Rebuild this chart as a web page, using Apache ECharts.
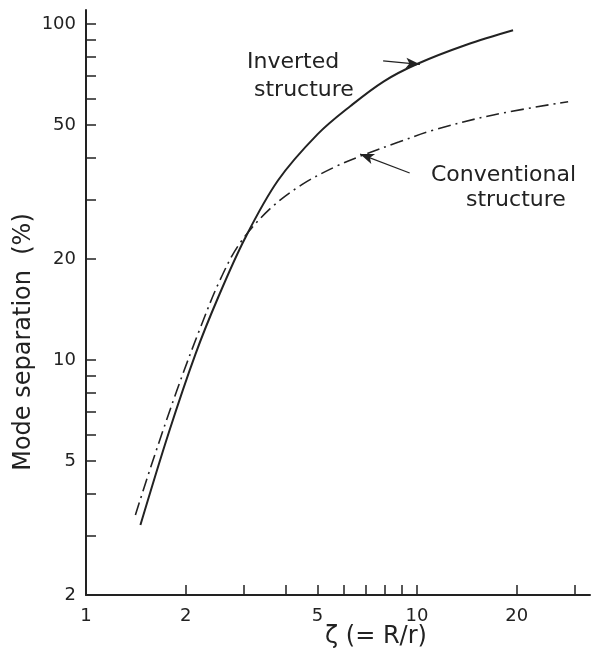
<!DOCTYPE html>
<html>
<head>
<meta charset="utf-8">
<script src="https://cdn.jsdelivr.net/npm/echarts@6/dist/echarts.min.js"></script>
<style>
  html, body { margin: 0; padding: 0; background: #fff; }
  #chart { width: 593px; height: 654px; }
</style>
</head>
<body>
<div id="chart"></div>
<script>
// values (zeta, mode separation %)
var invertedX = [1.46, 1.78, 2.14, 2.51, 3.02, 3.80, 5.01, 6.31, 7.94, 10, 14.1, 19.5];
var invertedY = [3.23, 6.1, 10.4, 15.4, 23.0, 34.2, 47.0, 57.1, 67.5, 76.0, 86.7, 95.7];
var conventionalX = [1.41, 1.59, 1.88, 2.21, 2.54, 2.92, 3.6, 4.5, 5.73, 6.87, 8.8, 11.2, 17, 28.6];
var conventionalY = [3.46, 5.0, 8.1, 12.4, 17.3, 22.3, 28.2, 33.3, 37.8, 40.7, 44.5, 48.3, 53.6, 58.7];

var xTicks = [2, 3, 4, 5, 6, 7, 8, 9, 10, 20, 30];
var xLabels = [1, 2, 5, 10, 20];
var yTicks = [3, 4, 5, 6, 7, 8, 9, 10, 20, 30, 40, 50, 60, 70, 80, 90, 100];
var yLabels = [2, 5, 10, 20, 50, 100];

function GetPairs(xs, ys) {
    var Ret = [];
    for (var i = 0; i < xs.length; i++) {
        Ret.push([xs[i], ys[i]]);
    }
    return Ret;
}

var ink = '#222';
var font = 'DejaVu Sans';

var myChart = echarts.init(document.getElementById('chart'));
var option = {
    animation: false,
    backgroundColor: '#fff',
    grid: {
        left: 86,
        right: 3,
        top: 10,
        bottom: 59,
        outerBoundsMode: 'none'
    },
    xAxis: {
        type: 'log',
        logBase: 10,
        min: 1,
        max: 33.3,
        axisLine: { lineStyle: { color: ink, width: 2 } },
        axisTick: {
            inside: true,
            length: 10,
            customValues: xTicks,
            lineStyle: { color: ink, width: 1.5 }
        },
        axisLabel: {
            customValues: xLabels,
            margin: 12,
            color: ink,
            fontFamily: font,
            fontSize: 18
        },
        splitLine: { show: false },
        minorTick: { show: false }
    },
    yAxis: {
        type: 'log',
        logBase: 10,
        min: 2,
        max: 110,
        axisLine: { lineStyle: { color: ink, width: 2 } },
        axisTick: {
            inside: true,
            length: 10,
            customValues: yTicks,
            lineStyle: { color: ink, width: 1.5 }
        },
        axisLabel: {
            customValues: yLabels,
            margin: 10,
            color: ink,
            fontFamily: font,
            fontSize: 18
        },
        splitLine: { show: false }
    },
    series: [
        {
            name: 'Inverted structure',
            type: 'line',
            smooth: 0.35,
            showSymbol: false,
            lineStyle: { color: ink, width: 2 },
            data: GetPairs(invertedX, invertedY),
            markLine: {
                silent: true,
                symbol: ['none', 'arrow'],
                symbolSize: [8, 14],
                lineStyle: { color: ink, width: 1.2, type: 'solid' },
                label: { show: false },
                data: [[{ coord: [7.9, 77.6] }, { coord: [10.2, 75.8] }]]
            }
        },
        {
            name: 'Conventional structure',
            type: 'line',
            smooth: 0.35,
            showSymbol: false,
            lineStyle: { color: ink, width: 1.6, type: [13, 5, 2, 5] },
            data: GetPairs(conventionalX, conventionalY),
            markLine: {
                silent: true,
                symbol: ['none', 'arrow'],
                symbolSize: [8, 14],
                lineStyle: { color: ink, width: 1.2, type: 'solid' },
                label: { show: false },
                data: [[{ coord: [9.5, 36] }, { coord: [6.73, 41.0] }]]
            }
        }
    ],
    graphic: [
        {
            type: 'text', left: 247, top: 48,
            style: { text: 'Inverted\n structure', fill: ink, font: '22px ' + font, lineHeight: 28 }
        },
        {
            type: 'text', left: 431, top: 163,
            style: { text: 'Conventional\n     structure', fill: ink, font: '22px ' + font, lineHeight: 25 }
        },
        {
            type: 'text', x: 376, y: 637,
            style: { text: 'ζ (= R/r)', fill: ink, font: '24px ' + font, align: 'center', verticalAlign: 'middle' }
        },
        {
            type: 'text', x: 24, y: 342, rotation: Math.PI / 2,
            style: { text: 'Mode separation  (%)', fill: ink, font: '24px ' + font, align: 'center', verticalAlign: 'middle' }
        }
    ]
};
myChart.setOption(option);
</script>
</body>
</html>
